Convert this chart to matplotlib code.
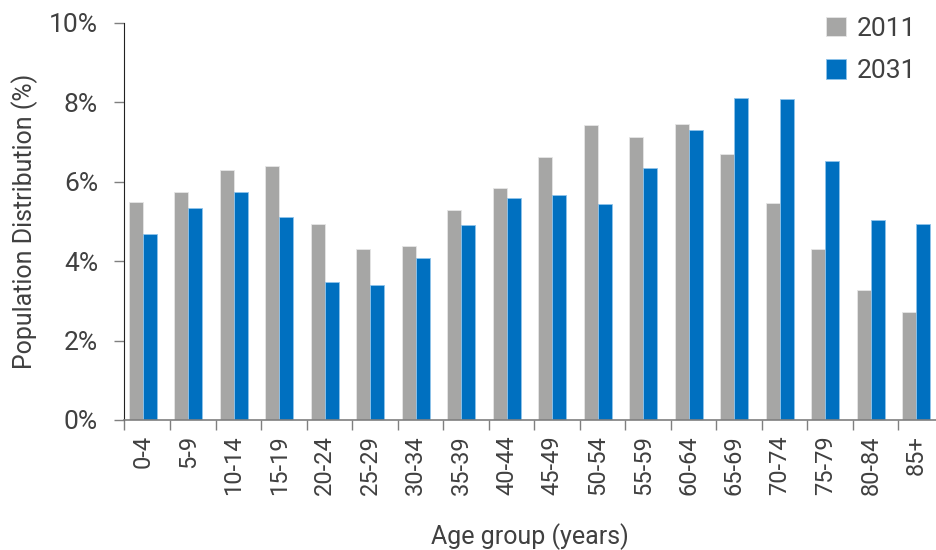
import numpy as np
import matplotlib
matplotlib.use("Agg")
from matplotlib import pyplot as plt
from matplotlib.ticker import FuncFormatter

plt.rcParams['font.family'] = ['Roboto', 'DejaVu Sans']
plt.rcParams['font.weight'] = 'normal'

ageGroups = ['0-4', '5-9', '10-14', '15-19', '20-24', '25-29', '30-34', '35-39',
             '40-44', '45-49', '50-54', '55-59', '60-64', '65-69', '70-74',
             '75-79', '80-84', '85+']
pop2011 = [5.49, 5.75, 6.30, 6.40, 4.94, 4.30, 4.39, 5.29, 5.85, 6.63,
           7.43, 7.12, 7.46, 6.69, 5.46, 4.30, 3.26, 2.71]
pop2031 = [4.68, 5.33, 5.75, 5.10, 3.48, 3.39, 4.07, 4.91, 5.59, 5.65,
           5.43, 6.33, 7.30, 8.11, 8.07, 6.53, 5.04, 4.94]

textColor = '#404040'
axisColor = '#7f7f7f'
grey = '#a6a6a5'
blue = '#0070c0'

fig = plt.figure(figsize=(9.36, 5.5), dpi=100)
ax = fig.add_axes([0.133, 0.2364, 0.867, 0.7224])

x = np.arange(len(ageGroups))
w = 0.308
ax.bar(x - w / 2, pop2011, width=w, color=grey, edgecolor='#e6e6e6', linewidth=0.6, label='2011')
ax.bar(x + w / 2, pop2031, width=w, color=blue, edgecolor='#8fc3ea', linewidth=0.6, label='2031')

ax.set_ylim(0, 10)
ax.set_xlim(-0.40, 17.43)
ax.set_yticks([0, 2, 4, 6, 8, 10])
ax.yaxis.set_major_formatter(FuncFormatter(lambda v, p: '%d%%' % v))

# category dividers as major ticks, names as unticked minor labels
ax.set_xticks(x - 0.40)
ax.set_xticklabels([])
ax.set_xticks(x, minor=True)
ax.set_xticklabels(ageGroups, minor=True, rotation=90, va='top', ha='center')
ax.tick_params(axis='x', which='major', length=7, width=1, color=axisColor)
ax.tick_params(axis='x', which='minor', length=0, pad=11, labelsize=17, labelcolor=textColor)
ax.tick_params(axis='y', length=7, width=1, color=axisColor, pad=12, labelsize=19, labelcolor=textColor)

for side in ['top', 'right']:
    ax.spines[side].set_visible(False)
ax.spines['left'].set_color('#222222')
ax.spines['bottom'].set_color(axisColor)
ax.spines['bottom'].set_linewidth(1.2)

ax.set_ylabel('Population Distribution (%)', fontsize=18, color=textColor, labelpad=8)
ax.set_xlabel('Age group (years)', fontsize=18, color=textColor, labelpad=20)

leg = ax.legend(loc='upper right', bbox_to_anchor=(1.005, 1.075), frameon=False,
                fontsize=19, handlelength=0.75, handleheight=0.75, handletextpad=0.4,
                labelspacing=0.7, labelcolor=textColor)

plt.savefig('out.png', dpi=100)
